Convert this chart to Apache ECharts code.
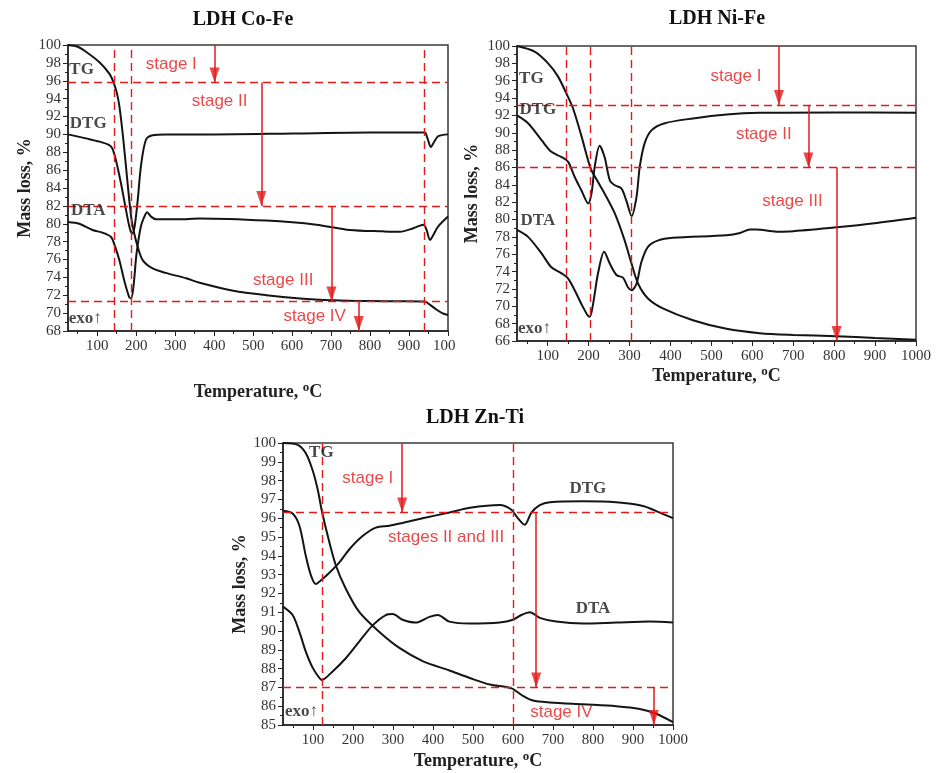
<!DOCTYPE html>
<html><head><meta charset="utf-8">
<script src="https://cdn.jsdelivr.net/npm/echarts@6/dist/echarts.min.js"></script>
<style>html,body{margin:0;padding:0;background:#fff}#c{width:939px;height:773px}</style>
</head><body><div id="c"></div>
<script>
// ---------- tick labels ----------
const xTickValues = [100,200,300,400,500,600,700,800,900,1000];
const xMinorValues = [50,150,250,350,450,550,650,750,850,950];

// ---------- LDH Co-Fe ----------
const coTG = [[25,100],[50,99.8],[71,99.25],[105,98.1],[131,96.8],[142,95.8],[150,94.7],[157,93.1],[167,89.4],[178,84.5],[187,80.8],[195,78.9],[204,77.4],[217,75.9],[242,75.0],[276,74.5],[328,73.9],[363,73.4],[449,72.5],[534,72.0],[620,71.65],[705,71.45],[791,71.35],[876,71.33],[940,71.3],[955,70.9],[967,70.5],[985,70.0],[1000,69.8]];
const coDTG = [[25,90.0],[71,89.55],[105,89.2],[131,88.8],[139,88.4],[148,87.1],[161,84.5],[174,81.5],[184,79.4],[190,78.9],[196,79.7],[204,82.7],[212,86.4],[225,89.4],[242,89.9],[276,90.0],[400,90.0],[600,90.1],[800,90.2],[940,90.2],[947,89.6],[956,88.6],[965,89.2],[975,89.8],[1000,90.0]];
const coDTA = [[25,80.2],[54,80.0],[88,79.3],[114,79.0],[135,78.55],[143,77.8],[157,75.9],[169,73.7],[182,71.8],[187,71.65],[193,73.0],[201,76.7],[212,79.7],[221,80.8],[228,81.3],[238,80.8],[251,80.5],[328,80.5],[363,80.6],[534,80.35],[662,79.9],[748,79.3],[833,79.15],[877,79.1],[911,79.5],[937,79.9],[945,79.3],[954,78.2],[963,78.8],[975,79.7],[1000,80.8]];
const coVLines = [143, 187, 940];
const coHLines = [95.8, 82.0, 71.3];
const coArrows = [[401,100,95.8],[521,95.8,82.0],[701,82.0,71.3],[771,71.3,68]];
const coStageText = [['stage I',290,97.8],['stage II',414,93.7],['stage III',577,73.7],['stage IV',658,69.6]];
const coCurveText = [['TG',60,97.2],['DTG',77,91.2],['DTA',77,81.45],['exo↑',69,69.4]];

// ---------- LDH Ni-Fe ----------
const niTG = [[25,100],[68,99.35],[101,98.0],[125,96.5],[146,94.5],[162,92.8],[182,89.7],[205,85.9],[222,84.4],[239,83.0],[264,80.7],[288,77.6],[305,74.9],[321,72.6],[345,70.9],[380,69.8],[455,68.4],[537,67.4],[618,66.9],[700,66.7],[806,66.55],[900,66.35],[1000,66.15]];
const niDTG = [[25,92.0],[52,91.1],[85,89.15],[109,87.8],[134,87.2],[150,86.65],[166,84.9],[182,83.4],[199,81.85],[207,83.0],[215,86.1],[227,88.5],[239,87.2],[252,84.5],[264,83.95],[280,83.6],[292,82.2],[305,80.4],[317,82.6],[325,86.1],[337,88.8],[354,90.3],[386,91.1],[455,91.65],[537,92.1],[618,92.3],[800,92.35],[1000,92.3]];
const niDTA = [[25,78.8],[52,78.0],[85,76.1],[109,74.5],[134,73.8],[150,73.2],[166,71.85],[182,70.3],[197,69.0],[203,68.8],[211,70.3],[223,73.8],[238,76.3],[252,74.9],[268,73.6],[284,73.3],[296,72.2],[305,71.85],[317,72.6],[329,75.1],[345,76.85],[370,77.6],[406,77.9],[537,78.2],[570,78.45],[594,78.85],[610,78.85],[659,78.6],[700,78.65],[806,79.1],[904,79.6],[1000,80.2]];
const niVLines = [146, 204, 305];
const niHLines = [93.2, 86.0];
const niArrows = [[665,100,93.2],[737,93.2,86.0],[806,86.0,66]];
const niStageText = [['stage I',560,96.5],['stage II',628,89.8],['stage III',698,82.1]];
const niCurveText = [['TG',60,96.2],['DTG',76,92.7],['DTA',76,79.9],['exo↑',68,67.4]];

// ---------- LDH Zn-Ti ----------
const znTG = [[25,100],[62,99.9],[82,99.45],[99,98.55],[112,97.5],[122,96.4],[137,95.05],[157,93.5],[182,92.25],[216,91.0],[266,89.95],[316,89.1],[374,88.4],[441,87.9],[492,87.5],[542,87.15],[596,86.95],[625,86.55],[650,86.3],[692,86.2],[775,86.1],[858,86.0],[917,85.85],[958,85.6],[1000,85.15]];
const znDTG = [[25,96.4],[49,96.25],[66,95.6],[82,94.0],[95,92.95],[107,92.5],[120,92.7],[141,93.1],[166,93.65],[191,94.35],[224,95.05],[257,95.5],[291,95.6],[324,95.75],[374,96.0],[441,96.3],[492,96.55],[567,96.7],[596,96.45],[612,96.0],[629,95.65],[646,96.3],[667,96.7],[692,96.85],[775,96.9],[858,96.85],[925,96.65],[967,96.3],[1000,96.0]];
const znDTA = [[25,91.3],[49,90.85],[66,89.95],[82,88.9],[99,88.05],[116,87.5],[122,87.4],[149,87.85],[182,88.55],[216,89.45],[249,90.3],[282,90.85],[299,90.9],[324,90.6],[357,90.45],[391,90.75],[412,90.85],[441,90.5],[492,90.4],[567,90.45],[600,90.6],[621,90.85],[642,91.0],[667,90.7],[708,90.5],[775,90.4],[858,90.45],[942,90.5],[1000,90.45]];
const znVLines = [122, 600];
const znHLines = [96.3, 87.0];
const znArrows = [[323,100,96.3],[658,96.3,87.0],[952,87.0,85]];
const znStageText = [['stage I',237,98.1],['stages II and III',433,95.0],['stage IV',721,85.65]];
const znCurveText = [['TG',121,99.5],['DTG',787,97.55],['DTA',800,91.2],['exo↑',71,85.7]];

const titles = ['LDH Co-Fe','LDH Ni-Fe','LDH Zn-Ti'];

// ---------- styles / layout ----------
const SERIF = '"Liberation Serif","Times New Roman",serif';
const SANS = '"Liberation Sans",Arial,sans-serif';
const RED = '#e31a1c';
const INK = '#141414';

const panels = [
  {grid:{left:68,top:45,width:380,height:286}, y:[68,100,2], xGap:50, yGap:34, tg:coTG, dtg:coDTG, dta:coDTA, v:coVLines, h:coHLines, arr:coArrows, st:coStageText, ct:coCurveText},
  {grid:{left:517,top:46,width:399,height:295}, y:[66,100,2], xGap:24, yGap:36, tg:niTG, dtg:niDTG, dta:niDTA, v:niVLines, h:niHLines, arr:niArrows, st:niStageText, ct:niCurveText},
  {grid:{left:283,top:443,width:390,height:285}, y:[85,100,1], xGap:25, yGap:32, tg:znTG, dtg:znDTG, dta:znDTA, v:znVLines, h:znHLines, arr:znArrows, st:znStageText, ct:znCurveText}
];

const grid=[], xAxis=[], yAxis=[], series=[];
panels.forEach((p,i)=>{
  grid.push(Object.assign({show:true, borderColor:'#3a3a3a', borderWidth:1.5, backgroundColor:'transparent'}, p.grid));
  xAxis.push({
    type:'value', gridIndex:i, min:25, max:1000, position:'bottom',
    axisLine:{lineStyle:{color:'#222',width:1.5}},
    axisTick:{customValues:xTickValues, length:5, lineStyle:{color:'#222'}},
    axisLabel:{customValues:xTickValues, formatter:v=>String(v), color:'#333', fontFamily:SERIF, fontSize:15, margin:8},
    splitLine:{show:false},
    name:'Temperature, {s|o}C', nameLocation:'middle', nameGap:p.xGap,
    nameTextStyle:{fontFamily:SERIF, fontWeight:'bold', fontSize:18, lineHeight:22, color:'#222',
      rich:{s:{fontFamily:SERIF, fontWeight:'bold', fontSize:13, lineHeight:12, color:'#222', verticalAlign:'top'}}}
  });
  xAxis.push({
    type:'value', gridIndex:i, min:25, max:1000, show:true, position:'bottom', offset:0,
    axisLine:{show:false}, axisLabel:{show:false}, splitLine:{show:false},
    axisTick:{customValues:xMinorValues, length:3, lineStyle:{color:'#222'}}
  });
  yAxis.push({
    type:'value', gridIndex:i, min:p.y[0], max:p.y[1], interval:p.y[2],
    axisLine:{show:true, lineStyle:{color:'#222',width:1.5}},
    axisTick:{show:true, length:5, lineStyle:{color:'#222'}},
    minorTick:{show:true, splitNumber:2, length:3, lineStyle:{color:'#222'}},
    axisLabel:{color:'#333', fontFamily:SERIF, fontSize:15, margin:7},
    splitLine:{show:false},
    name:'Mass loss, %', nameLocation:'middle', nameGap:p.yGap,
    nameTextStyle:{fontFamily:SERIF, fontWeight:'bold', fontSize:18, color:'#222'}
  });
  const xi = 2*i;
  const lineBase = {type:'line', xAxisIndex:xi, yAxisIndex:i, showSymbol:false, smooth:0.3,
    lineStyle:{color:INK, width:2}, silent:true, z:3};
  const ml = [];
  p.v.forEach(v=>ml.push({xAxis:v}));
  p.h.forEach(v=>ml.push({yAxis:v}));
  p.arr.forEach(a=>ml.push([{coord:[a[0],a[1]], lineStyle:{type:'solid', width:1.5, color:RED}},{coord:[a[0],a[2]]}]));
  series.push(Object.assign({}, lineBase, {name:'TG'+i, data:p.tg,
    markLine:{silent:true, symbol:'none', label:{show:false}, animation:false,
      lineStyle:{color:RED, type:[8,5], width:1.4}, data:ml}}));
  series.push(Object.assign({}, lineBase, {name:'DTG'+i, data:p.dtg}));
  series.push(Object.assign({}, lineBase, {name:'DTA'+i, data:p.dta}));
  // arrow heads
  series.push({type:'scatter', xAxisIndex:xi, yAxisIndex:i, silent:true, z:6,
    symbol:'path://M0,0L10,0L5,16Z', symbolSize:[10,15], symbolOffset:[0,'-50%'],
    itemStyle:{color:RED}, data:p.arr.map(a=>[a[0],a[2]])});
  // stage text
  series.push({type:'scatter', xAxisIndex:xi, yAxisIndex:i, silent:true, z:7, symbolSize:1,
    itemStyle:{color:'rgba(0,0,0,0)'},
    label:{show:true, position:'inside', formatter:'{b}', color:RED, fontFamily:SANS, fontSize:17},
    data:p.st.map(s=>({name:s[0], value:[s[1],s[2]]}))});
  // curve names
  series.push({type:'scatter', xAxisIndex:xi, yAxisIndex:i, silent:true, z:7, symbolSize:1,
    itemStyle:{color:'rgba(0,0,0,0)'},
    label:{show:true, position:'inside', formatter:'{b}', color:'#1a1a1a', fontFamily:SERIF, fontWeight:'bold', fontSize:17},
    data:p.ct.map(s=>({name:s[0], value:[s[1],s[2]]}))});
});

const chart = echarts.init(document.getElementById('c'), null, {renderer:'canvas'});
chart.setOption({
  animation:false,
  backgroundColor:'#fff',
  grid, xAxis, yAxis, series,
  graphic:[
    {type:'text', style:{text:titles[0], x:243, y:20, align:'center', verticalAlign:'middle', font:'bold 20px '+SERIF, fill:'#111'}},
    {type:'text', style:{text:titles[1], x:717, y:19, align:'center', verticalAlign:'middle', font:'bold 20px '+SERIF, fill:'#111'}},
    {type:'text', style:{text:titles[2], x:475, y:418, align:'center', verticalAlign:'middle', font:'bold 20px '+SERIF, fill:'#111'}},
    {type:'rect', shape:{x:455, y:337, width:14, height:22}, style:{fill:'#fff'}, z:100}
  ]
});
</script></body></html>
